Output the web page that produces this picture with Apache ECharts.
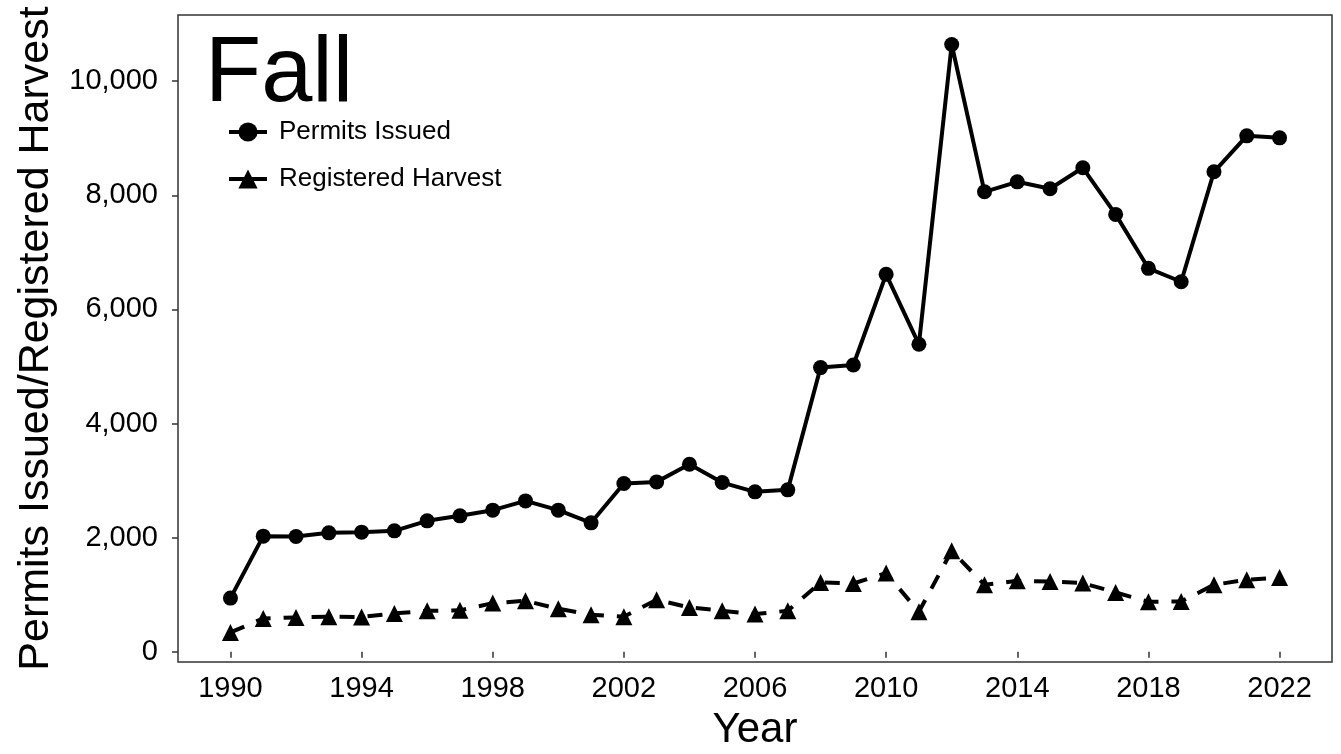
<!DOCTYPE html>
<html>
<head>
<meta charset="utf-8">
<script src="https://cdn.jsdelivr.net/npm/echarts@6/dist/echarts.min.js"></script>
<style>
html,body{margin:0;padding:0;background:#fff;}
#chart{width:1341px;height:754px;}
</style>
</head>
<body>
<div id="chart"></div>
<script>
var years = [1990,1991,1992,1993,1994,1995,1996,1997,1998,1999,2000,2001,2002,2003,2004,2005,2006,2007,2008,2009,2010,2011,2012,2013,2014,2015,2016,2017,2018,2019,2020,2021,2022];
var permitsIssued = [940,2026,2020,2084,2096,2119,2294,2382,2481,2644,2481,2259,2948,2977,3287,2965,2802,2837,4980,5026,6614,5388,10642,8061,8236,8114,8482,7665,6720,6485,8412,9042,9007];
var registeredHarvest = [338,583,601,613,610,671,718,725,852,893,753,648,613,911,776,718,660,718,1214,1196,1378,700,1769,1173,1243,1231,1203,1039,876,881,1173,1261,1301];
var xTicks = [1990,1994,1998,2002,2006,2010,2014,2018,2022];
var yTicks = [0,2000,4000,6000,8000,10000];

var font = 'Liberation Sans, Arial, sans-serif';
function pairs(vals){ return years.map(function(y,i){ return [y, vals[i]]; }); }

var chart = echarts.init(document.getElementById('chart'), null, {renderer:'canvas'});
chart.setOption({
  animation: false,
  backgroundColor: '#fff',
  grid: {left:178, right:9, top:15, bottom:92, show:true, borderColor:'#333', borderWidth:1.5, backgroundColor:'#fff', outerBoundsMode:'none', containLabel:false},
  xAxis: {
    type:'value', min:1988.4, max:2023.6,
    name:'Year', nameLocation:'middle', nameGap:47,
    nameTextStyle:{fontFamily:font, fontSize:42, color:'#000'},
    axisLine:{show:false},
    axisTick:{show:true, length:6, lineStyle:{color:'#333', width:1.5}, customValues:xTicks},
    axisLabel:{fontFamily:font, fontSize:29, color:'#000', margin:12, customValues:xTicks, formatter:function(v){return String(v);}},
    splitLine:{show:false}
  },
  yAxis: {
    type:'value', min:-180, max:11160,
    name:'Permits Issued/Registered Harvest', nameLocation:'middle', nameGap:120, nameRotate:90,
    nameTextStyle:{fontFamily:font, fontSize:43, color:'#000'},
    axisLine:{show:false},
    axisTick:{show:true, length:6, lineStyle:{color:'#333', width:1.5}, customValues:yTicks},
    axisLabel:{fontFamily:font, fontSize:29, color:'#000', margin:20, customValues:yTicks, formatter:function(v){return v.toLocaleString('en-US');}},
    splitLine:{show:false}
  },
  legend: {
    orient:'vertical', left:222, top:114, itemWidth:38, itemHeight:24, itemGap:21,
    textStyle:{fontFamily:font, fontSize:26, color:'#000', padding:[0,0,0,7]},
    lineStyle:{type:'solid', width:4},
    data:['Permits Issued','Registered Harvest']
  },
  graphic: [{
    type:'text', left:205, top:30, silent:true,
    style:{text:'Fall', fontFamily:font, fontSize:92, fill:'#000'}
  }],
  series: [
    {name:'Permits Issued', type:'line', data:pairs(permitsIssued), symbol:'circle', symbolSize:15,
     lineStyle:{color:'#000', width:4}, itemStyle:{color:'#000'}},
    {name:'Registered Harvest', type:'line', data:pairs(registeredHarvest), symbol:'triangle', symbolSize:17,
     lineStyle:{color:'#000', width:4, type:[15,13]}, itemStyle:{color:'#000'}}
  ]
});
</script>
</body>
</html>
